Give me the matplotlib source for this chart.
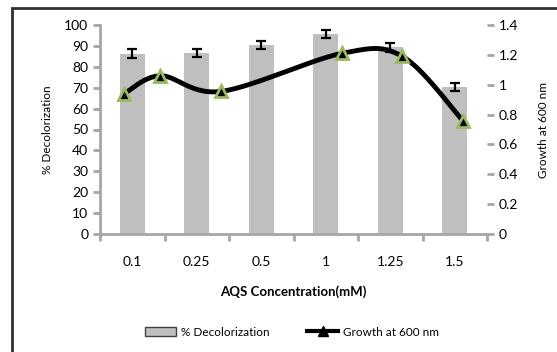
import matplotlib
matplotlib.use('Agg')
import matplotlib.pyplot as plt
import numpy as np
from matplotlib.lines import Line2D
from matplotlib.patches import Patch, Rectangle

plt.rcParams['font.family'] = ['Lato', 'DejaVu Sans']

# Data
conc_labels = ['0.1', '0.25', '0.5', '1', '1.25', '1.5']
conc_values = [0.1, 0.25, 0.5, 1.0, 1.25, 1.5]
decolorization = [86.2, 86.7, 90.3, 95.7, 89.4, 70.3]
decol_err = [2.1, 1.9, 2.0, 2.1, 2.2, 1.8]
growth = [0.94, 1.06, 0.955, 1.21, 1.19, 0.76]

grey = '#a6a6a6'


def smooth(x, y, n=30):
    """Bezier smoothing through the points (Catmull-Rom style control points)."""
    x = np.asarray(x, float)
    y = np.asarray(y, float)
    px = np.concatenate([[x[0]], x, [x[-1]]])
    py = np.concatenate([[y[0]], y, [y[-1]]])
    xs, ys = [], []
    t = np.linspace(0, 1, n)
    for i in range(1, len(px) - 2):
        p0 = np.array([px[i], py[i]])
        p3 = np.array([px[i + 1], py[i + 1]])
        c1 = p0 + (np.array([px[i + 1], py[i + 1]]) - np.array([px[i - 1], py[i - 1]])) / 6
        c2 = p3 - (np.array([px[i + 2], py[i + 2]]) - np.array([px[i], py[i]])) / 6
        pts = ((1 - t) ** 3)[:, None] * p0 + (3 * (1 - t) ** 2 * t)[:, None] * c1 \
            + (3 * (1 - t) * t ** 2)[:, None] * c2 + (t ** 3)[:, None] * p3
        xs.extend(pts[:, 0])
        ys.extend(pts[:, 1])
    return np.array(xs), np.array(ys)


fig = plt.figure(figsize=(5.57, 3.52), dpi=100)
ax = fig.add_axes([100 / 557, 1 - 234 / 352, 387 / 557, 209 / 352])

# Bars on the category axis
pos = np.arange(len(conc_labels))
ax.bar(pos, decolorization, width=0.39, color='#bfbfbf', zorder=2)
ax.errorbar(pos, decolorization, yerr=decol_err, fmt='none', ecolor='black',
            elinewidth=1.6, capsize=3.5, capthick=1.6, zorder=3)
ax.set_xlim(-0.5, len(conc_labels) - 0.5)
ax.set_ylim(0, 100)
ax.set_yticks(range(0, 101, 10))
ax.set_xticks(pos)
ax.set_xticklabels(conc_labels)
ax.set_xticks(np.arange(-0.5, len(conc_labels)), minor=True)
ax.tick_params(axis='x', which='major', length=0, pad=16, labelsize=10)
ax.tick_params(axis='x', which='minor', length=5, width=2, color=grey, direction='out')
ax.tick_params(axis='y', length=5, width=2, color=grey, direction='out', labelsize=10)
for side in ['top', 'right']:
    ax.spines[side].set_visible(False)
for side in ['left', 'bottom']:
    ax.spines[side].set_color(grey)
    ax.spines[side].set_linewidth(2)
ax.set_ylabel('% Decolorization', fontsize=8.5, labelpad=8)
ax.set_xlabel('AQS Concentration(mM)', fontsize=9.5, fontweight='bold', labelpad=12)

# Growth line on secondary axes (numeric concentration scale)
ax2 = fig.add_axes(ax.get_position(), frameon=False)
ax2.set_xlim(0, 1.6)
ax2.set_ylim(0, 1.4)
sx, sy = smooth(conc_values, growth)
ax2.plot(sx, sy, color='black', lw=3.5, zorder=4, solid_capstyle='round')
ax2.plot(conc_values, growth, ls='none', marker='^', ms=9, mfc='black',
         mec='#9bbb59', mew=2, zorder=5)
ax2.xaxis.set_visible(False)
ax2.yaxis.tick_right()
ax2.yaxis.set_label_position('right')
ax2.set_yticks(np.arange(0, 1.41, 0.2))
ax2.set_yticklabels(['0', '0.2', '0.4', '0.6', '0.8', '1', '1.2', '1.4'])
ax2.tick_params(axis='y', length=5, width=2, color=grey, direction='out', labelsize=10)
ax2.spines['right'].set_visible(True)
ax2.spines['right'].set_color(grey)
ax2.spines['right'].set_linewidth(2)
ax2.set_ylabel('Growth at 600 nm', fontsize=8.5, labelpad=14)

# Legend
handles = [Patch(facecolor='#bfbfbf', edgecolor='#404040', lw=1),
           Line2D([], [], color='black', lw=3, marker='^', ms=7, mfc='black', mec='black')]
fig.legend(handles, ['% Decolorization', 'Growth at 600 nm'], loc='center',
           bbox_to_anchor=(292 / 557, 1 - 332 / 352), ncol=2, frameon=False,
           fontsize=8.5, handlelength=2.6, columnspacing=3.2, handletextpad=0.4)

# Chart area border
fig.patches.append(Rectangle((12 / 557, -0.05), 1.2, 1 - 8 / 352 + 0.05,
                             transform=fig.transFigure, fill=False,
                             edgecolor='#303030', lw=2))

fig.savefig('out.png', dpi=100)
